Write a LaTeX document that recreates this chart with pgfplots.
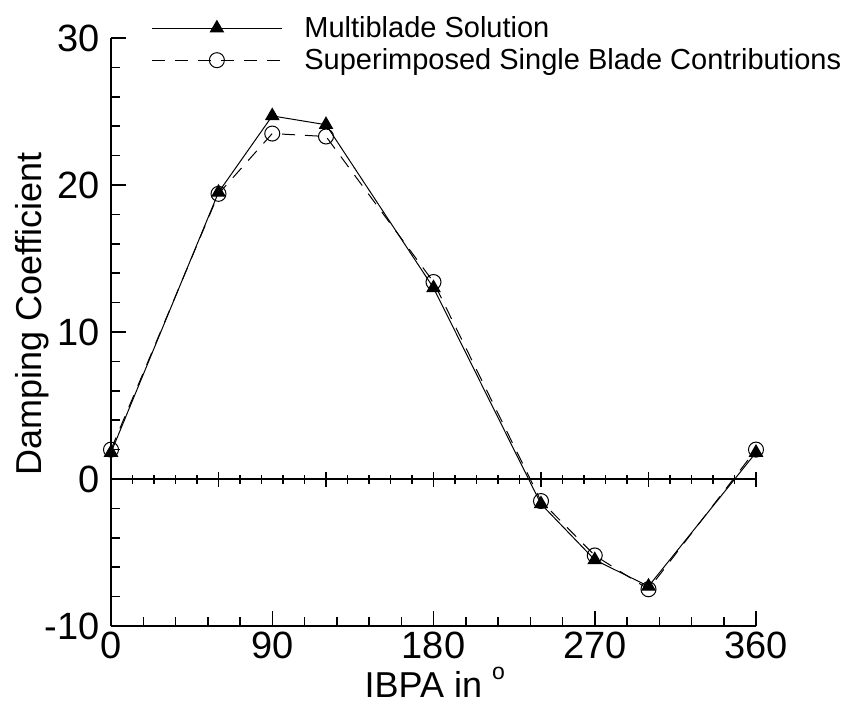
\documentclass[border=0pt]{standalone}
\usepackage{fontspec}
\setmainfont{Liberation Sans}
\usepackage{pgfplots}
\usepackage{pgfplotstable}
\pgfplotsset{compat=1.18}

% Damping coefficient against inter-blade phase angle
\pgfplotstableread{
x    y
0    1.8
60   19.5
90   24.7
120  24.1
180  13.0
240  -1.7
270  -5.5
300  -7.3
360  1.8
}\multiblade

\pgfplotstableread{
x    y
0    2.0
60   19.4
90   23.5
120  23.3
180  13.4
240  -1.5
270  -5.2
300  -7.5
360  2.0
}\superposed

\pgfplotsset{
  frame/.style={
    scale only axis,
    width=322.5pt, height=294pt,
    xmin=0, xmax=360, ymin=-10, ymax=30,
    axis line style={line width=0.75pt, black, -},
    every tick/.style={line width=0.75pt, black},
    clip=false,
  },
  plain lines/.style={
    x axis line style={-},
    y axis line style={-},
    every inner x axis line/.append style={-},
    every inner y axis line/.append style={-},
    every outer x axis line/.append style={-},
    every outer y axis line/.append style={-},
  },
}

\begin{document}
\begin{tikzpicture}
\useasboundingbox (-55.5pt,-40.5pt) rectangle (367.5pt,313pt);

% zero line with its own ticks
\begin{axis}[frame,
  axis x line=middle, axis y line=none, plain lines,
  xtick={0,60,...,360}, minor x tick num=4,
  xticklabels={},
  tick align=center,
  major tick length=7.5pt, minor tick length=4.5pt,
]
\end{axis}

\begin{axis}[frame,
  axis x line=bottom, axis y line=left, plain lines,
  xtick={0,90,...,360}, minor x tick num=4,
  ytick={-10,0,...,30}, minor y tick num=4,
  tick align=inside,
  major tick length=7.5pt, minor tick length=4.5pt,
  /pgf/number format/assume math mode=true,
  ticklabel style={font=\fontsize{19pt}{19pt}\selectfont},
  xticklabel style={anchor=north, inner sep=0pt, yshift=-3pt},
  yticklabel style={anchor=east, inner sep=0pt, xshift=-5.5pt},
  label style={font=\fontsize{18pt}{18pt}\selectfont},
  xlabel={IBPA in \raisebox{9pt}{\fontsize{11.5pt}{11.5pt}\selectfont o}},
  ylabel={Damping Coefficient},
  xlabel style={at={(axis description cs:0.502,-0.1224)}, anchor=base, inner sep=0pt},
  ylabel style={at={(axis description cs:-0.107,0.531)}, anchor=base, inner sep=0pt},
  legend image code/.code={
    \draw[mark repeat=2, mark phase=2, #1]
      plot coordinates {(0pt,0pt) (32.5pt,0pt) (65pt,0pt)};
  },
  legend cell align=left,
  legend style={draw=none, fill=none, inner sep=0pt,
    at={(axis description cs:0.062,0.9895)}, anchor=west,
    font=\fontsize{14.5pt}{14.5pt}\selectfont,
    row sep=4pt, column sep=11pt,
    nodes={inner sep=0pt}},
]
\addplot[black, line width=0.5pt, mark=triangle*, mark size=3.75pt,
  mark options={solid, fill=black}] table {\multiblade};
\addlegendentry{Multiblade Solution}
\addplot[black, line width=0.5pt, dash pattern=on 6.5pt off 5pt,
  mark=o, mark size=3.75pt, mark options={solid}] table {\superposed};
\addlegendentry{Superimposed Single Blade Contributions}
\end{axis}
\end{tikzpicture}
\end{document}
